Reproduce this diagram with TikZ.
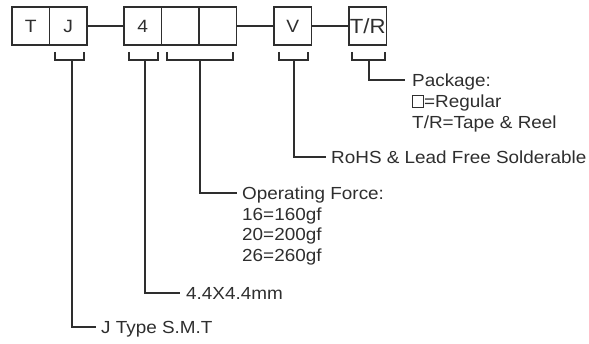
\documentclass[tikz,border=0pt]{standalone}
\usepackage{fontspec}
\setmainfont{Liberation Sans}[FakeStretch=1.08]
\definecolor{ink}{HTML}{2E2E2E}
\newcommand{\sqbox}{{\setlength{\fboxsep}{0pt}\setlength{\fboxrule}{0.9pt}\framebox[12pt]{\rule{0pt}{12pt}}}}
\begin{document}
\begin{tikzpicture}[x=1pt,y=-1pt,
  cell/.style={draw=ink,line width=1.2pt,minimum width=37.5pt,minimum height=38pt,inner sep=0pt,text=ink,font=\fontsize{17.8}{20}\selectfont},
  lbl/.style={anchor=base west,inner sep=0pt,text=ink,font=\fontsize{17.5}{20}\selectfont},
  ln/.style={draw=ink,line width=1.2pt}]
\useasboundingbox (0,0) rectangle (589,344);
% boxes
\node[cell] (t) at (30.75,26) {T};
\node[cell] (j) at (68.25,26) {J};
\node[cell] (f) at (142.75,26) {4};
\node[cell] (b1) at (180.25,26) {};
\node[cell] (b2) at (217.75,26) {};
\node[cell] (v) at (292.75,26) {V};
\node[cell,font=\fontsize{20.5}{22}\selectfont] (tr) at (367.75,26) {T/R};
\draw[ln] (j.east) -- (f.west);
\draw[ln] (b2.east) -- (v.west);
\draw[ln] (v.east) -- (tr.west);
% brackets
\draw[ln] (55,52) -- (55,60) -- (84,60) -- (84,52);
\draw[ln] (129,52) -- (129,60) -- (158,60) -- (158,52);
\draw[ln] (167,52) -- (167,60) -- (233,60) -- (233,52);
\draw[ln] (279,52) -- (279,60) -- (308,60) -- (308,52);
\draw[ln] (352,52) -- (352,60) -- (385,60) -- (385,52);
% labels
\node[lbl] (pk1) at (412,86.5) {Package:};
\node[lbl] (pk2) at (412,107.5) {\sqbox=Regular};
\node[lbl] (pk3) at (412,128.5) {T/R=Tape \& Reel};
\node[lbl] (rohs) at (331,163.5) {RoHS \& Lead Free Solderable};
\node[lbl] (op1) at (242,199.5) {Operating Force:};
\node[lbl] (op2) at (242,220.5) {16=160gf};
\node[lbl] (op3) at (242,241) {20=200gf};
\node[lbl] (op4) at (242,261.5) {26=260gf};
\node[lbl] (sz) at (186,299.5) {4.4X4.4mm};
\node[lbl] (jt) at (101,333.5) {J Type S.M.T};
% leaders
\draw[ln] (369,60) |- ([xshift=-7pt]pk1.west |- 0,80);
\draw[ln] (294,60) |- ([xshift=-5pt]rohs.west |- 0,157);
\draw[ln] (200,60) |- ([xshift=-5pt]op1.west |- 0,193);
\draw[ln] (145,60) |- ([xshift=-6pt]sz.west |- 0,293);
\draw[ln] (72,60) |- ([xshift=-5pt]jt.west |- 0,327);
\end{tikzpicture}
\end{document}
